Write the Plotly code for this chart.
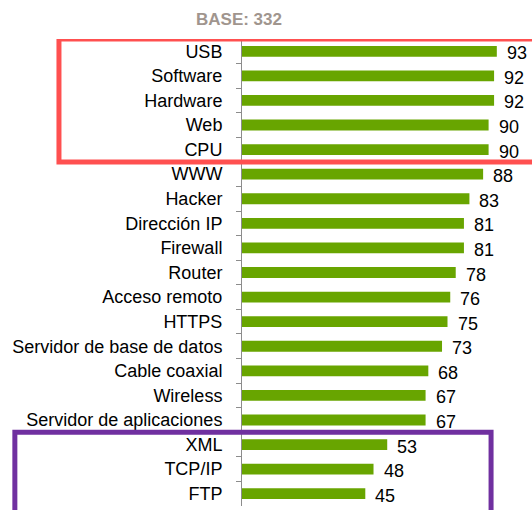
import plotly.graph_objects as go

# Terms, top to bottom, and their recognition scores
categories = [
    "USB", "Software", "Hardware", "Web", "CPU", "WWW", "Hacker",
    "Dirección IP", "Firewall", "Router", "Acceso remoto", "HTTPS",
    "Servidor de base de datos", "Cable coaxial", "Wireless",
    "Servidor de aplicaciones", "XML", "TCP/IP", "FTP",
]
values = [93, 92, 92, 90, 90, 88, 83, 81, 81, 78, 76, 75, 73, 68, 67, 67, 53, 48, 45]
base_label = "BASE: 332"

BAR_COLOR = "#68a500"
FONT = "Liberation Sans, Arial, sans-serif"
n = len(categories)

fig = go.Figure(
    go.Bar(
        x=values,
        y=categories,
        orientation="h",
        marker=dict(color=BAR_COLOR, line=dict(width=0)),
        hoverinfo="skip",
    )
)

# Value labels just past the end of each bar
for cat, v in zip(categories, values):
    fig.add_annotation(
        x=v, y=cat, xref="x", yref="y", text=str(v), showarrow=False,
        xanchor="left", yanchor="middle", xshift=8, yshift=-2,
        font=dict(family=FONT, size=18, color="#000000"),
    )

# Sample size header
fig.add_annotation(
    x=0, y=1, xref="paper", yref="paper", text=f"<b>{base_label}</b>",
    showarrow=False, xanchor="center", yanchor="bottom", yshift=8, xshift=-3,
    font=dict(family=FONT, size=17, color="#a0958e"),
)

# Highlight box around the five best-known terms
fig.add_shape(
    type="rect", xref="paper", yref="y", x0=-0.668, x1=1.2, y0=-0.5, y1=4.5,
    line=dict(color="#ff5050", width=5), fillcolor="rgba(0,0,0,0)", layer="above",
)
# Highlight box around the three least-known terms, running off the bottom edge
first_low = categories.index("XML")
fig.add_shape(
    type="rect", xref="paper", yref="paper", x0=-0.829, x1=0.909,
    y0=(n - first_low) / n, y1=-0.05,
    line=dict(color="#7030a0", width=5), fillcolor="rgba(0,0,0,0)", layer="above",
)

fig.update_layout(
    width=532, height=510,
    margin=dict(l=241.5, r=16, t=39, b=4),
    paper_bgcolor="white", plot_bgcolor="white",
    bargap=0.56, showlegend=False,
    font=dict(family=FONT, size=18, color="#000000"),
)
fig.update_xaxes(range=[0, 100], visible=False, fixedrange=True)
fig.update_yaxes(
    range=[n - 0.5, -0.5], showgrid=False, zeroline=False,
    showline=True, linecolor="#8c8c8c", linewidth=1,
    ticks="outside", tickson="boundaries", ticklen=5, tickcolor="#8c8c8c",
    ticklabelstandoff=15, tickfont=dict(family=FONT, size=18, color="#000000"),
    fixedrange=True,
)

fig.write_html("out.html")
